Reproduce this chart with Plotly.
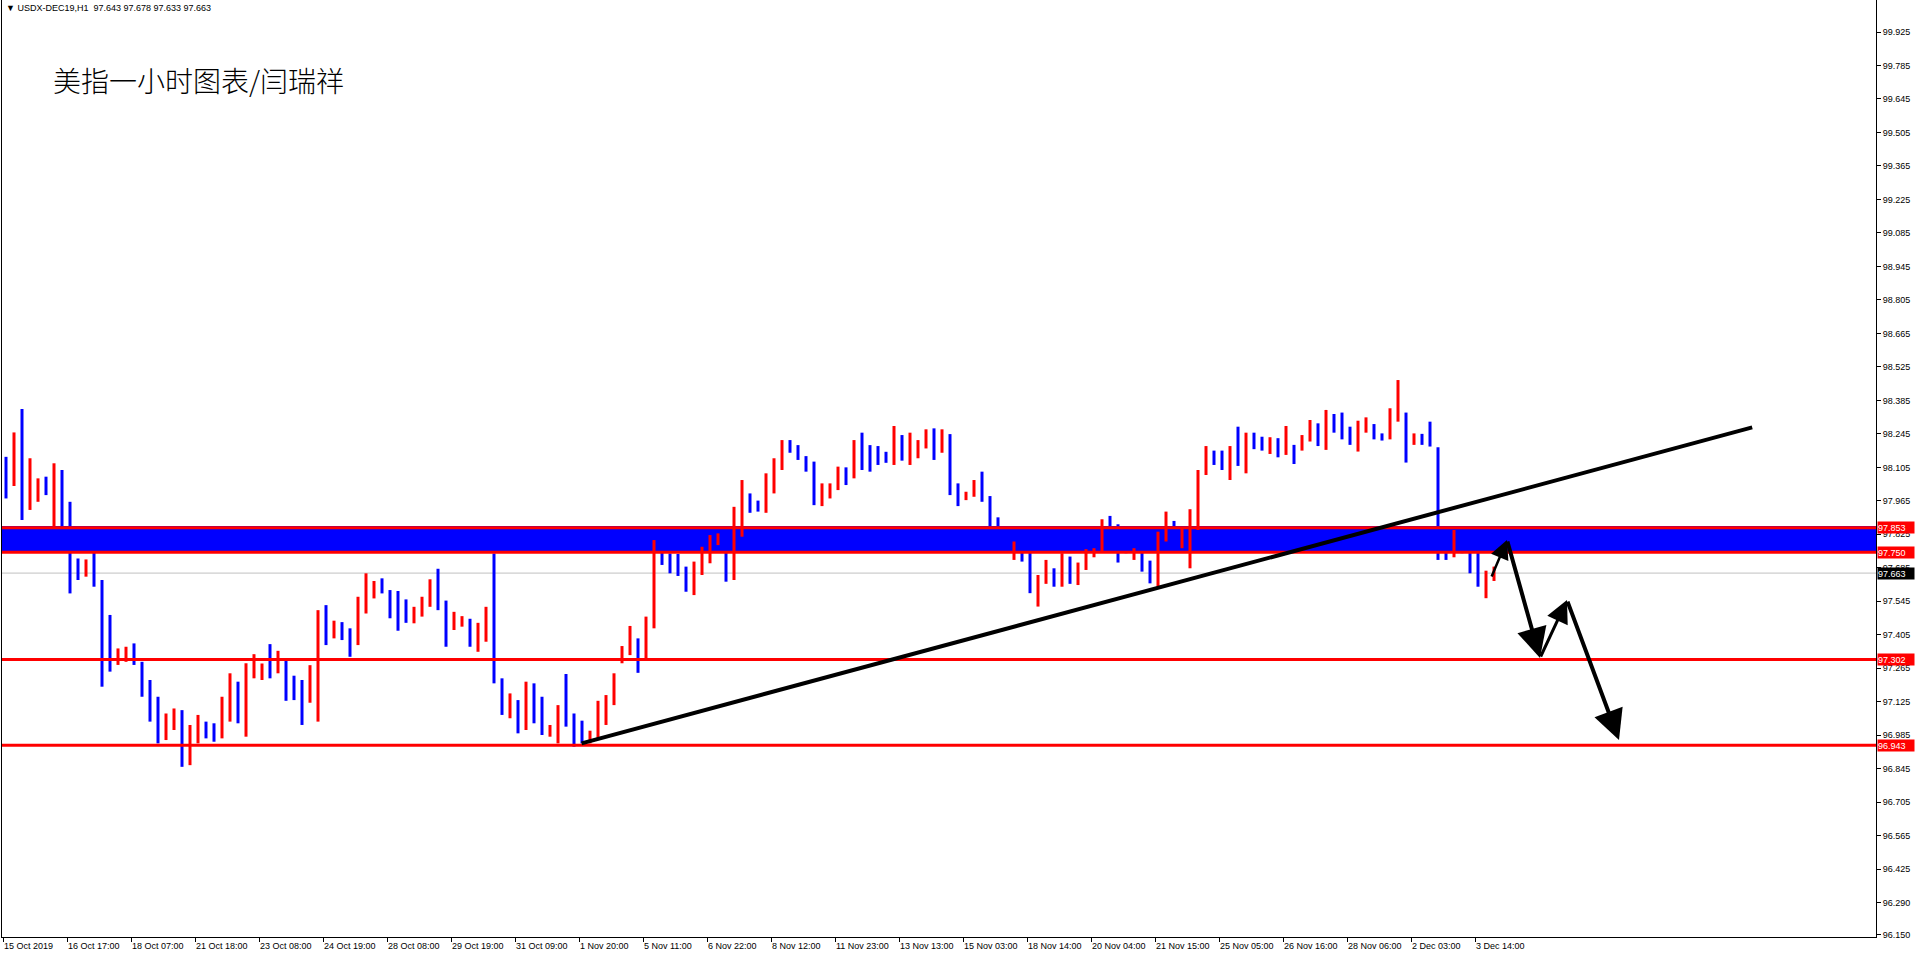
import plotly.graph_objects as go

# ---------------- text ----------------
SYMBOL_HEADER = "USDX-DEC19,H1  97.643 97.678 97.633 97.663"
CHART_TITLE = "美指一小时图表/闫瑞祥"

# ---------------- price bars (each mark = 4 hourly bars) ----------------
BARS_PER_MARK = 4
OPEN = [98.12, 98.04, 98.20, 97.94, 97.98, 98.05, 97.95, 98.05, 97.90, 97.70,
        97.66, 97.70, 97.62, 97.40, 97.29, 97.30, 97.34, 97.29, 97.16, 97.06,
        96.97, 97.02, 97.05, 96.90, 96.99, 97.03, 97.01, 96.98, 97.10, 97.20,
        97.00, 97.24, 97.23, 97.30, 97.25, 97.29, 97.20, 97.18, 97.13, 97.20,
        97.45, 97.40, 97.45, 97.40, 97.37, 97.52, 97.57, 97.63, 97.58, 97.50,
        97.52, 97.46, 97.50, 97.53, 97.63, 97.53, 97.43, 97.45, 97.47, 97.36,
        97.40, 97.46, 97.20, 97.08, 97.12, 97.02, 97.16, 97.10, 96.99, 96.99,
        97.09, 97.05, 97.00, 96.96, 96.98, 97.06, 97.12, 97.29, 97.33, 97.38,
        97.31, 97.45, 97.76, 97.73, 97.70, 97.67, 97.60, 97.68, 97.73, 97.79,
        97.76, 97.64, 97.90, 97.98, 97.95, 97.93, 98.05, 98.11, 98.20, 98.18,
        98.14, 98.10, 97.96, 97.99, 98.02, 98.07, 98.06, 98.20, 98.16, 98.16,
        98.16, 98.14, 98.20, 98.14, 98.17, 98.20, 98.25, 98.18, 98.22, 98.02,
        97.97, 97.99, 98.05, 97.97, 97.88, 97.83, 97.73, 97.78, 97.77, 97.56,
        97.63, 97.67, 97.62, 97.70, 97.63, 97.68, 97.74, 97.76, 97.86, 97.82,
        97.80, 97.73, 97.77, 97.69, 97.62, 97.80, 97.88, 97.78, 97.80, 97.86,
        98.08, 98.16, 98.15, 98.08, 98.16, 98.10, 98.23, 98.21, 98.18, 98.21,
        98.17, 98.19, 98.18, 98.23, 98.27, 98.20, 98.31, 98.30, 98.25, 98.21,
        98.27, 98.28, 98.24, 98.23, 98.33, 98.33, 98.20, 98.23, 98.24, 98.18,
        97.80, 97.74, 97.84, 97.76, 97.70, 97.60, 97.643]
HIGH = [98.149, 98.251, 98.349, 98.143, 98.059, 98.066, 98.122, 98.094, 97.961, 97.724,
        97.720, 97.822, 97.634, 97.488, 97.348, 97.355, 97.369, 97.292, 97.216, 97.146,
        97.076, 97.097, 97.090, 97.028, 97.070, 97.042, 97.035, 97.146, 97.244, 97.209,
        97.286, 97.324, 97.285, 97.366, 97.338, 97.299, 97.234, 97.216, 97.278, 97.508,
        97.529, 97.464, 97.458, 97.432, 97.564, 97.662, 97.630, 97.641, 97.592, 97.588,
        97.553, 97.522, 97.564, 97.637, 97.681, 97.548, 97.501, 97.483, 97.472, 97.455,
        97.522, 97.745, 97.223, 97.160, 97.132, 97.209, 97.202, 97.146, 97.028, 97.111,
        97.241, 97.076, 97.046, 97.004, 97.129, 97.153, 97.244, 97.358, 97.442, 97.390,
        97.481, 97.801, 97.790, 97.745, 97.743, 97.690, 97.711, 97.773, 97.822, 97.829,
        97.766, 97.940, 98.052, 97.996, 97.966, 98.080, 98.143, 98.219, 98.219, 98.198,
        98.152, 98.129, 98.038, 98.038, 98.108, 98.105, 98.219, 98.250, 98.198, 98.194,
        98.170, 98.278, 98.240, 98.250, 98.219, 98.264, 98.268, 98.264, 98.244, 98.038,
        98.003, 98.052, 98.087, 97.985, 97.896, 97.840, 97.795, 97.801, 97.815, 97.655,
        97.718, 97.683, 97.746, 97.732, 97.707, 97.763, 97.767, 97.888, 97.902, 97.867,
        97.836, 97.767, 97.801, 97.715, 97.836, 97.920, 97.881, 97.850, 97.930, 98.094,
        98.194, 98.175, 98.175, 98.194, 98.275, 98.250, 98.250, 98.233, 98.231, 98.227,
        98.278, 98.199, 98.240, 98.303, 98.289, 98.345, 98.328, 98.334, 98.275, 98.300,
        98.314, 98.286, 98.247, 98.352, 98.470, 98.334, 98.247, 98.245, 98.296, 98.189,
        97.843, 97.843, 97.850, 97.795, 97.767, 97.673, 97.690]
LOW = [97.975, 98.027, 97.885, 97.927, 97.961, 97.989, 97.857, 97.843, 97.578, 97.634,
       97.648, 97.606, 97.188, 97.251, 97.279, 97.292, 97.279, 97.146, 97.042, 96.951,
       96.965, 97.007, 96.853, 96.860, 96.951, 96.972, 96.958, 96.972, 97.042, 97.035,
       96.979, 97.223, 97.216, 97.223, 97.244, 97.129, 97.132, 97.028, 97.121, 97.042,
       97.362, 97.390, 97.383, 97.313, 97.362, 97.494, 97.557, 97.578, 97.474, 97.422,
       97.455, 97.453, 97.481, 97.522, 97.508, 97.355, 97.425, 97.439, 97.355, 97.334,
       97.376, 97.202, 97.070, 97.056, 96.993, 97.007, 97.035, 96.986, 96.979, 96.951,
       97.021, 96.937, 96.951, 96.951, 96.972, 97.028, 97.111, 97.286, 97.320, 97.246,
       97.306, 97.432, 97.697, 97.662, 97.651, 97.585, 97.571, 97.655, 97.704, 97.780,
       97.627, 97.634, 97.815, 97.915, 97.920, 97.915, 97.996, 98.094, 98.166, 98.136,
       98.087, 97.947, 97.943, 97.975, 98.010, 98.031, 98.059, 98.094, 98.087, 98.115,
       98.124, 98.115, 98.133, 98.115, 98.143, 98.184, 98.136, 98.166, 97.989, 97.943,
       97.968, 97.982, 97.961, 97.815, 97.815, 97.770, 97.718, 97.711, 97.579, 97.523,
       97.618, 97.606, 97.606, 97.618, 97.613, 97.676, 97.729, 97.753, 97.808, 97.707,
       97.746, 97.718, 97.669, 97.620, 97.606, 97.795, 97.815, 97.767, 97.683, 97.843,
       98.073, 98.115, 98.094, 98.052, 98.111, 98.080, 98.181, 98.175, 98.161, 98.147,
       98.157, 98.119, 98.175, 98.213, 98.194, 98.178, 98.250, 98.222, 98.199, 98.171,
       98.250, 98.222, 98.217, 98.222, 98.296, 98.125, 98.199, 98.199, 98.192, 97.718,
       97.718, 97.729, 97.746, 97.662, 97.606, 97.558, 97.630]
CLOSE = [98.00, 98.20, 97.92, 98.00, 98.04, 98.00, 98.05, 97.88, 97.68, 97.66,
         97.70, 97.64, 97.40, 97.30, 97.32, 97.34, 97.29, 97.16, 97.06, 96.96,
         97.04, 97.05, 96.90, 97.00, 97.03, 96.99, 96.97, 97.12, 97.20, 97.05,
         97.24, 97.30, 97.27, 97.24, 97.31, 97.16, 97.15, 97.06, 97.23, 97.45,
         97.39, 97.45, 97.39, 97.35, 97.53, 97.60, 97.62, 97.59, 97.49, 97.48,
         97.46, 97.50, 97.54, 97.62, 97.53, 97.37, 97.46, 97.47, 97.37, 97.42,
         97.47, 97.23, 97.09, 97.13, 97.01, 97.17, 97.10, 97.00, 97.01, 97.08,
         97.06, 96.98, 96.98, 96.99, 97.08, 97.12, 97.23, 97.33, 97.40, 97.27,
         97.45, 97.76, 97.72, 97.68, 97.67, 97.60, 97.69, 97.75, 97.80, 97.82,
         97.64, 97.90, 97.98, 97.94, 97.93, 98.06, 98.12, 98.20, 98.18, 98.15,
         98.10, 97.98, 98.01, 98.03, 98.08, 98.05, 98.20, 98.14, 98.13, 98.14,
         98.14, 98.17, 98.15, 98.20, 98.20, 98.25, 98.16, 98.22, 98.00, 97.97,
         97.99, 98.04, 97.98, 97.84, 97.83, 97.79, 97.78, 97.75, 97.60, 97.62,
         97.68, 97.62, 97.70, 97.64, 97.66, 97.74, 97.76, 97.86, 97.84, 97.74,
         97.76, 97.76, 97.68, 97.64, 97.80, 97.89, 97.83, 97.82, 97.89, 98.05,
         98.15, 98.13, 98.11, 98.16, 98.13, 98.23, 98.20, 98.19, 98.21, 98.17,
         98.24, 98.13, 98.23, 98.28, 98.21, 98.31, 98.29, 98.24, 98.21, 98.28,
         98.29, 98.23, 98.22, 98.33, 98.40, 98.17, 98.23, 98.21, 98.20, 97.74,
         97.75, 97.83, 97.76, 97.70, 97.62, 97.66, 97.663]

# ---------------- axes ----------------
X_TICK_BARS = [0, 32, 64, 96, 128, 160, 192, 224, 256, 288, 320, 352,
               384, 416, 448, 480, 512, 544, 576, 608, 640, 672, 704, 736]
X_TICK_LABELS = ["15 Oct 2019", "16 Oct 17:00", "18 Oct 07:00", "21 Oct 18:00",
                 "23 Oct 08:00", "24 Oct 19:00", "28 Oct 08:00", "29 Oct 19:00",
                 "31 Oct 09:00", "1 Nov 20:00", "5 Nov 11:00", "6 Nov 22:00",
                 "8 Nov 12:00", "11 Nov 23:00", "13 Nov 13:00", "15 Nov 03:00",
                 "18 Nov 14:00", "20 Nov 04:00", "21 Nov 15:00", "25 Nov 05:00",
                 "26 Nov 16:00", "28 Nov 06:00", "2 Dec 03:00", "3 Dec 14:00"]
Y_TICK_VALUES = [99.925, 99.785, 99.645, 99.505, 99.365, 99.225, 99.085, 98.945,
                 98.805, 98.665, 98.525, 98.385, 98.245, 98.105, 97.965, 97.825,
                 97.685, 97.545, 97.405, 97.265, 97.125, 96.985, 96.845, 96.705,
                 96.565, 96.425, 96.285, 96.150]
Y_TICK_LABELS = ["99.925", "99.785", "99.645", "99.505", "99.365", "99.225", "99.085", "98.945",
                 "98.805", "98.665", "98.525", "98.385", "98.245", "98.105", "97.965", "97.825",
                 "97.685", "97.545", "97.405", "97.265", "97.125", "96.985", "96.845", "96.705",
                 "96.565", "96.425", "96.290", "96.150"]
X_RANGE = [-0.5, 936.5]
Y_RANGE = [96.1416, 100.0588]

# ---------------- analyst drawings ----------------
ZONE_LOW, ZONE_HIGH = 97.750, 97.860
LEVELS = [97.853, 97.750, 97.302, 96.943]
LAST_PRICE = 97.663
TREND_START = (289.3, 96.951)
TREND_END = (874.6, 98.272)
# (tail bar, tail price, head bar, head price, line width)
ARROWS = [(744, 97.642, 752, 97.801, 2.5),
          (752, 97.801, 768.5, 97.308, 4),
          (768.5, 97.308, 782, 97.550, 3),
          (782, 97.550, 808, 96.965, 4)]

UP = "#FF0000"
DOWN = "#0000FF"
AXIS_FONT = dict(family="Liberation Sans", size=9, color="black")
BOX_FONT = dict(family="Liberation Sans", size=9, color="white")

xs = [k * BARS_PER_MARK + (BARS_PER_MARK - 1) / 2 for k in range(len(OPEN))]

fig = go.Figure()
fig.add_trace(go.Ohlc(
    x=xs, open=OPEN, high=HIGH, low=LOW, close=CLOSE,
    increasing=dict(line=dict(color=UP, width=3)),
    decreasing=dict(line=dict(color=DOWN, width=3)),
    tickwidth=0, hoverinfo="skip", showlegend=False,
))

shapes = []
shapes.append(dict(type="rect", xref="paper", yref="y", x0=0, x1=1,
                   y0=ZONE_LOW, y1=ZONE_HIGH, fillcolor=DOWN, line=dict(width=0),
                   layer="below"))
shapes.append(dict(type="line", xref="paper", yref="y", x0=0, x1=1,
                   y0=LAST_PRICE, y1=LAST_PRICE, line=dict(color="#C0C0C0", width=1),
                   layer="below"))
for lv in LEVELS:
    shapes.append(dict(type="line", xref="paper", yref="y", x0=0, x1=1,
                       y0=lv, y1=lv, line=dict(color=UP, width=3), layer="above"))
shapes.append(dict(type="line", xref="x", yref="y",
                   x0=TREND_START[0], y0=TREND_START[1], x1=TREND_END[0], y1=TREND_END[1],
                   line=dict(color="black", width=4), layer="above"))

annotations = []
annotations.append(dict(xref="paper", yref="paper", x=0, y=1, xshift=2, yshift=-1,
                        xanchor="left", yanchor="top", showarrow=False,
                        text="▼ " + SYMBOL_HEADER, font=AXIS_FONT))
annotations.append(dict(xref="paper", yref="paper", x=49 / 1874, y=1 - 80 / 937,
                        xanchor="left", yanchor="middle", showarrow=False,
                        text=CHART_TITLE,
                        font=dict(family="Noto Sans CJK SC", size=28, color="black",
                                  weight=300)))
for lv in LEVELS:
    annotations.append(dict(xref="paper", yref="y", x=1, y=lv, xshift=1,
                            xanchor="left", yanchor="middle", showarrow=False,
                            text=f"{lv:.3f}", bgcolor=UP, borderpad=0,
                            width=36, height=11, align="left", font=BOX_FONT))
annotations.append(dict(xref="paper", yref="y", x=1, y=LAST_PRICE, xshift=1,
                        xanchor="left", yanchor="middle", showarrow=False,
                        text=f"{LAST_PRICE:.3f}", bgcolor="black", borderpad=0,
                        width=36, height=11, align="left", font=BOX_FONT))
for tx, ty, hx, hy, w in ARROWS:
    annotations.append(dict(xref="x", yref="y", axref="x", ayref="y",
                            x=hx, y=hy, ax=tx, ay=ty, text="", showarrow=True,
                            arrowhead=2, arrowsize=1.5, arrowwidth=w,
                            arrowcolor="black"))

fig.update_layout(
    width=1918, height=961,
    margin=dict(l=2, r=42, t=0, b=24, pad=0),
    paper_bgcolor="white", plot_bgcolor="white",
    shapes=shapes, annotations=annotations,
    showlegend=False, hovermode=False,
    xaxis=dict(range=X_RANGE, showgrid=False, zeroline=False,
               rangeslider=dict(visible=False),
               showline=True, linecolor="black", linewidth=1,
               ticks="outside", ticklen=4, tickcolor="black",
               tickvals=X_TICK_BARS, ticktext=X_TICK_LABELS,
               ticklabelposition="outside right", tickfont=AXIS_FONT),
    yaxis=dict(range=Y_RANGE, side="right", showgrid=False, zeroline=False,
               showline=True, linecolor="black", linewidth=1, mirror=True,
               ticks="outside", ticklen=4, tickcolor="black",
               tickvals=Y_TICK_VALUES, ticktext=Y_TICK_LABELS, tickfont=AXIS_FONT),
)

fig.write_html("out.html", config={"displayModeBar": False},
               post_script="document.body.style.margin='0px';")
